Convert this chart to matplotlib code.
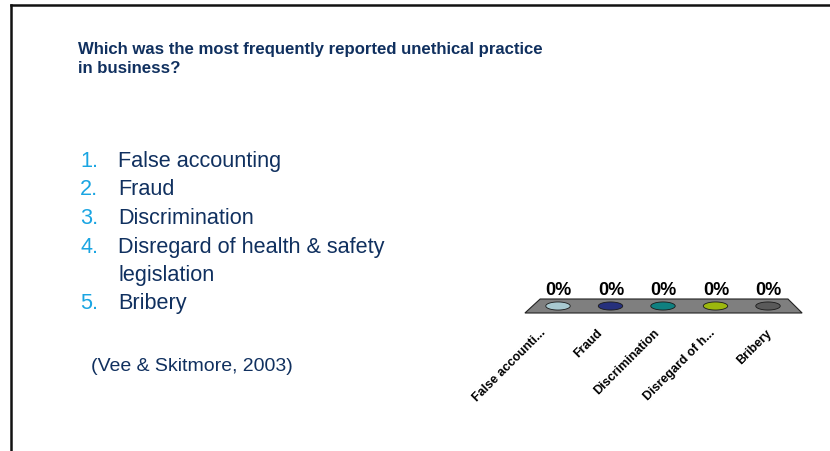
import matplotlib
matplotlib.use("Agg")
import matplotlib.pyplot as plt
from matplotlib.path import Path
from matplotlib.patches import Polygon
from matplotlib.lines import Line2D
import numpy as np

# ---- data ----
title_lines = ["Which was the most frequently reported unethical practice", "in business?"]
list_numbers = ["1.", "2.", "3.", "4.", "", "5."]
list_texts = ["False accounting", "Fraud", "Discrimination",
              "Disregard of health & safety", "legislation", "Bribery"]
citation = "(Vee & Skitmore, 2003)"
categories = ["False accounting", "Fraud", "Discrimination",
              "Disregard of health & safety legislation", "Bribery"]
tick_labels = ["False accounti...", "Fraud", "Discrimination", "Disregard of h...", "Bribery"]
values = [0.0, 0.0, 0.0, 0.0, 0.0]
colors = ["#A8C9D0", "#26307C", "#0F8080", "#9CB80E", "#5A5A5A"]

W, H = 830, 451
fig = plt.figure(figsize=(W / 100, H / 100), dpi=100)
fig.patch.set_facecolor("white")
plt.rcParams["font.family"] = ["Liberation Sans", "DejaVu Sans"]


def fx(x):
    return x / W


def fy(y):
    return 1 - y / H


# slide border (left and top)
fig.add_artist(Line2D([fx(10.5), fx(10.5)], [fy(5), fy(451)], color="#111111", lw=1.8))
fig.add_artist(Line2D([fx(10.5), fx(830)], [fy(5), fy(5)], color="#111111", lw=1.8))

navy = "#10305F"
blue = "#1AA5E2"

# title
title_base = [54, 73]
for line, yb in zip(title_lines, title_base):
    fig.text(fx(78), fy(yb), line, fontsize=12.1, fontweight="bold", color=navy,
             va="baseline", ha="left")

# numbered list
list_base = [167, 195, 224, 253, 281, 309]
for num, txt, yb in zip(list_numbers, list_texts, list_base):
    if num:
        fig.text(fx(80), fy(yb), num, fontsize=15.6, color=blue, va="baseline", ha="left")
    fig.text(fx(118), fy(yb), txt, fontsize=15.6, color=navy, va="baseline", ha="left")

fig.text(fx(91), fy(371), citation, fontsize=14, color=navy, va="baseline", ha="left")

# ---- chart ----
n = len(categories)
xs = np.arange(n)
# main axes: category i centred at 558 + 52.5 i ; y=-1..1 maps to pixel 313..299
x0_px = 558 - 0.5 * 52.5
x1_px = 768 + 0.5 * 52.5
ax = fig.add_axes([fx(x0_px), fy(313), (x1_px - x0_px) / W, 14 / H])
ax.set_xlim(-0.5, n - 0.5)
ax.set_ylim(-1, 1)
ax.axis("off")

floor = Polygon([(-0.63, -1), (n - 0.35, -1), (n - 0.62, 1), (-0.34, 1)],
                closed=True, facecolor="#7F7F7F", edgecolor="#222222", lw=0.8,
                clip_on=False, zorder=1)
ax.add_patch(floor)

t = np.linspace(0, 2 * np.pi, 60)
ell = Path(np.column_stack([np.cos(t), 0.33 * np.sin(t)]), closed=True)
ax.scatter(xs, values, marker=ell, s=310, c=colors, edgecolors="#1a1a1a",
           linewidths=0.6, zorder=3, clip_on=False)

for x, v in zip(xs, values):
    ax.annotate(f"{v:.0%}", (x, v), xytext=(0.5, 8), textcoords="offset points",
                ha="center", va="baseline", fontsize=13, fontweight="bold",
                color="black", annotation_clip=False)

# category label axes (labels spread slightly wider due to perspective)
lx0 = 540 - 0.5 * 56.5
lx1 = 766 + 0.5 * 56.5
lax = fig.add_axes([fx(lx0), fy(327), (lx1 - lx0) / W, 1 / H])
lax.set_xlim(-0.5, n - 0.5)
lax.set_xticks(xs)
lax.set_xticklabels(tick_labels, rotation=45, ha="right", va="top",
                    rotation_mode="anchor", fontsize=9, fontweight="bold")
lax.tick_params(axis="x", length=0, pad=0)
lax.set_yticks([])
for s in lax.spines.values():
    s.set_visible(False)
lax.patch.set_visible(False)

fig.savefig("out.png", dpi=100, facecolor="white")
